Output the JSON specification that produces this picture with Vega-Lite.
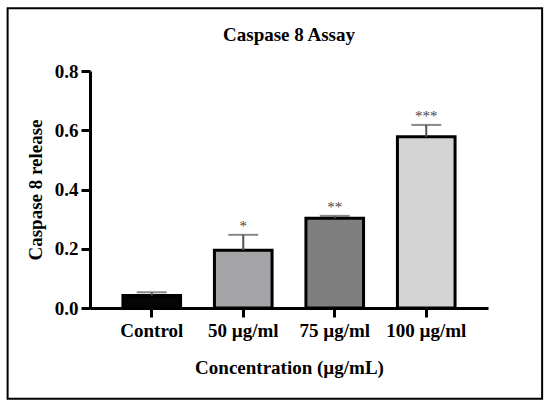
{
  "$schema": "https://vega.github.io/schema/vega-lite/v6.json",
  "autosize": "none",
  "padding": {"left": 90, "top": 71, "right": 62, "bottom": 103},
  "width": 398,
  "height": 237,
  "background": "white",
  "title": {
    "text": "Caspase 8 Assay",
    "font": "Liberation Serif",
    "fontSize": 19,
    "fontWeight": "bold",
    "color": "black",
    "anchor": "middle",
    "frame": "group",
    "baseline": "alphabetic",
    "offset": -53
  },
  "data": {
    "values": [
      {"group": "Control", "mean": 0.042, "upper": 0.053, "sig": ""},
      {"group": "50 µg/ml", "mean": 0.195, "upper": 0.247, "sig": "*"},
      {"group": "75 µg/ml", "mean": 0.303, "upper": 0.311, "sig": "**"},
      {"group": "100 µg/ml", "mean": 0.578, "upper": 0.618, "sig": "***"}
    ]
  },
  "layer": [
    {
      "encoding": {
        "x": {
          "field": "group",
          "type": "nominal",
          "sort": ["Control", "50 µg/ml", "75 µg/ml", "100 µg/ml"],
          "scale": {"paddingInner": 0.37, "paddingOuter": 0.36},
          "title": "Concentration (µg/mL)"
        }
      },
      "layer": [
        {
          "mark": {"type": "bar", "stroke": "black", "strokeWidth": 3},
          "encoding": {
            "y": {
              "field": "mean",
              "type": "quantitative",
              "scale": {"domain": [0, 0.8]},
              "axis": {"values": [0, 0.2, 0.4, 0.6, 0.8], "format": ".1f"},
              "title": "Caspase 8 release"
            },
            "color": {
              "field": "group",
              "type": "nominal",
              "sort": ["Control", "50 µg/ml", "75 µg/ml", "100 µg/ml"],
              "scale": {"range": ["#050505", "#a4a4a7", "#7f7f7f", "#d4d4d4"]},
              "legend": null
            }
          }
        },
        {
          "mark": {"type": "rule", "color": "#555555", "strokeWidth": 2},
          "encoding": {
            "y": {"field": "mean", "type": "quantitative"},
            "y2": {"field": "upper"}
          }
        },
        {
          "mark": {"type": "tick", "color": "#555555", "size": 30, "thickness": 2},
          "encoding": {
            "y": {"field": "upper", "type": "quantitative"}
          }
        },
        {
          "mark": {"type": "text", "font": "Liberation Serif", "fontSize": 15, "color": "#444444", "baseline": "alphabetic", "dy": -4},
          "encoding": {
            "y": {"field": "upper", "type": "quantitative"},
            "text": {"field": "sig"}
          }
        }
      ]
    },
    {
      "data": {"values": [{"frame": "outer"}]},
      "mark": {"type": "rect", "fillOpacity": 0, "stroke": "black", "strokeWidth": 2},
      "encoding": {
        "x": {"datum": -0.207, "type": "quantitative", "scale": {"domain": [0, 1]}, "axis": null},
        "x2": {"datum": 1.136},
        "y": {"datum": 1.012, "type": "quantitative", "scale": {"domain": [0, 0.8]}},
        "y2": {"datum": -0.306}
      }
    }
  ],
  "resolve": {"scale": {"x": "independent"}},
  "config": {
    "view": {"stroke": null},
    "axis": {
      "domainColor": "black",
      "domainWidth": 3,
      "tickColor": "black",
      "tickWidth": 3,
      "tickSize": 9,
      "grid": false,
      "labelFont": "Liberation Serif",
      "labelFontSize": 19,
      "labelFontWeight": "bold",
      "labelColor": "black",
      "titleFont": "Liberation Serif",
      "titleFontSize": 19,
      "titleFontWeight": "bold",
      "titleColor": "black"
    },
    "axisX": {"labelAngle": 0, "labelPadding": 4, "titlePadding": 18},
    "axisY": {"labelPadding": 3, "titlePadding": 9}
  }
}
